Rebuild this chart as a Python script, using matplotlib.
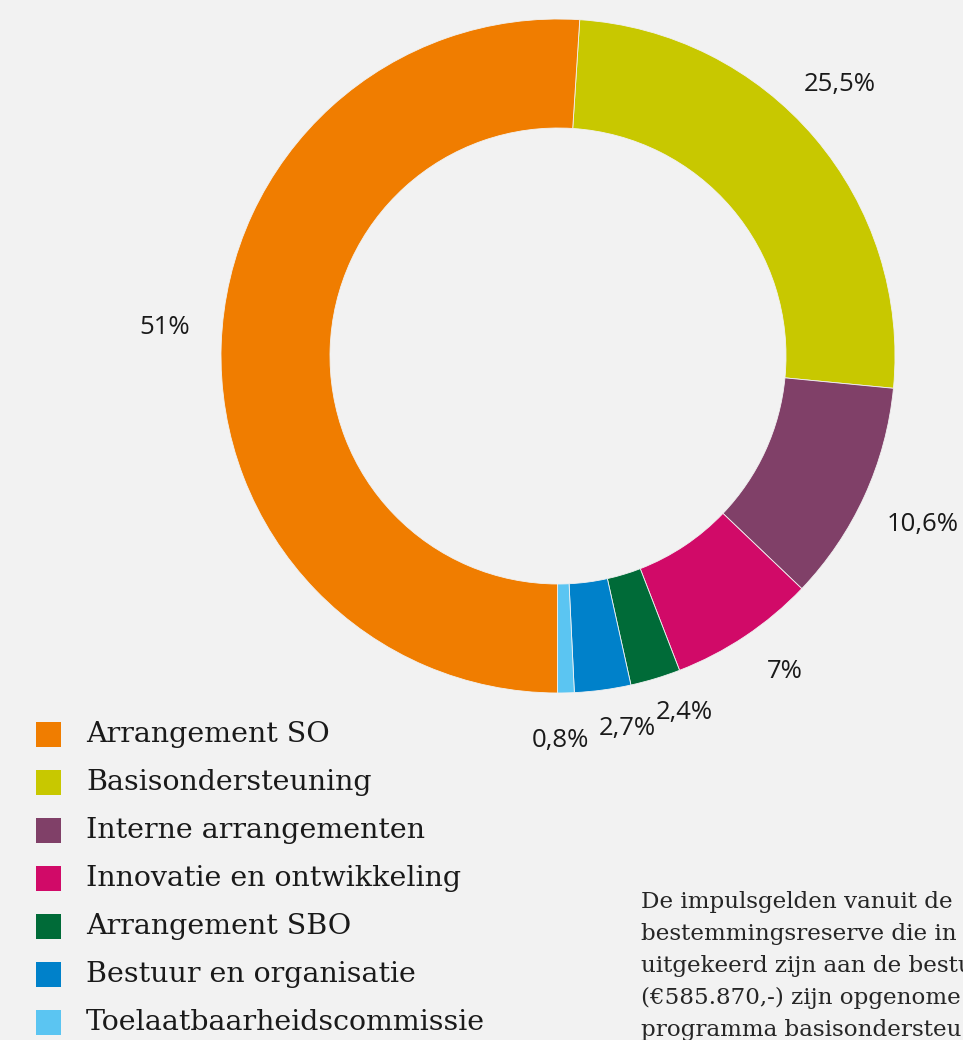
"""Donut chart: verdeling van de middelen per programma (recreated)."""

import matplotlib
matplotlib.use("Agg")
import matplotlib.pyplot as plt
from matplotlib.patches import Rectangle

BG = "#F2F2F2"
INK = "#1a1a1a"

# data, clockwise from the top
categories = ["Basisondersteuning", "Interne arrangementen", "Innovatie en ontwikkeling",
              "Arrangement SBO", "Bestuur en organisatie", "Toelaatbaarheidscommissie",
              "Arrangement SO"]
shares = [25.5, 10.6, 7.0, 2.4, 2.7, 0.8, 51.0]
share_labels = ["25,5%", "10,6%", "7%", "2,4%", "2,7%", "0,8%", "51%"]
colors = ["#C8C800", "#804068", "#D10A68", "#006B38", "#0081CA", "#5BC5F2", "#F07D00"]

legend_order = ["Arrangement SO", "Basisondersteuning", "Interne arrangementen",
                "Innovatie en ontwikkeling", "Arrangement SBO", "Bestuur en organisatie",
                "Toelaatbaarheidscommissie"]

# the note runs off the page in the source, only the visible part is kept
note_lines = ["De impulsgelden vanuit de",
              "bestemmingsreserve die in",
              "uitgekeerd zijn aan de bestu",
              "(€585.870,-) zijn opgenome",
              "programma basisondersteu"]

W, H = 963, 1040
fig = plt.figure(figsize=(W / 100, H / 100), dpi=100, facecolor=BG)
ax = fig.add_axes([0, 0, 1, 1])
ax.set_facecolor(BG)


def py(y):
    # pixel row (top-down) -> data y (bottom-up)
    return H - y


cx, cy, R = 558, py(356), 337
ax.pie(shares, colors=colors, startangle=86.3, counterclock=False,
       center=(cx, cy), radius=R,
       wedgeprops=dict(width=R - 228, edgecolor=BG, linewidth=0.6))

# percentage labels (hand placed like the original)
label_pos = [(840, 85), (923, 525), (785, 672), (684, 712), (627, 728), (560, 741), (165, 328)]
for txt, (x, y) in zip(share_labels, label_pos):
    ax.text(x, py(y), txt, ha="center", va="center", fontsize=18.5,
            family="Open Sans", color=INK)

# legend
for i, name in enumerate(legend_order):
    yc = py(734 + 48 * i)
    col = colors[categories.index(name)]
    ax.add_patch(Rectangle((36, yc - 12.5), 25, 25, facecolor=col, edgecolor="none"))
    ax.text(86, yc, name, ha="left", va="center", fontsize=20.5,
            family="DejaVu Serif", color=INK)

# side note
for i, line in enumerate(note_lines):
    ax.text(641, py(902 + 32 * i), line, ha="left", va="center", fontsize=16.6,
            family="DejaVu Serif", color="#262626")

ax.set_xlim(0, W)
ax.set_ylim(0, H)
ax.set_aspect("equal")
ax.axis("off")

fig.savefig("out.png", dpi=100, facecolor=BG)
